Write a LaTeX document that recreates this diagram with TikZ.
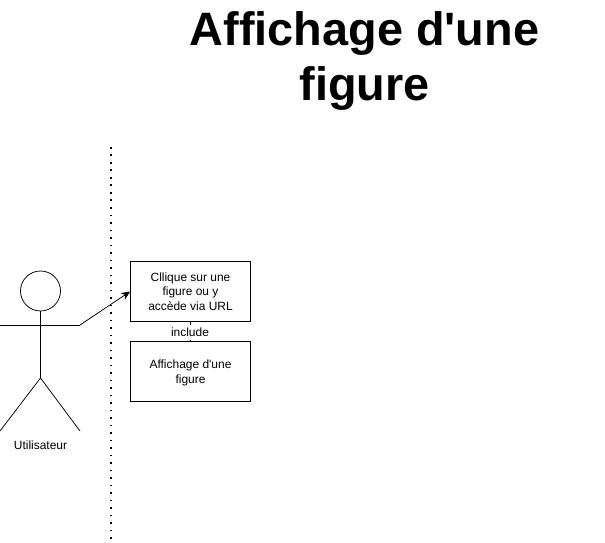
\documentclass[tikz,border=0pt]{standalone}
\usepackage{fontspec}
\setmainfont{Liberation Sans}
\usetikzlibrary{positioning,arrows.meta}
\tikzset{
  box/.style={draw,minimum width=120bp,minimum height=60bp,inner sep=2bp,align=center,font=\fontsize{12}{14.5}\selectfont},
  small/.style={inner sep=0pt,font=\fontsize{12}{14}\selectfont},
  limb/.style={line width=0.75bp}
}
\begin{document}
\begin{tikzpicture}[x=1bp,y=-1bp,line width=0.75bp]
  \useasboundingbox (0,0) rectangle (605,543);
  \node[inner sep=0pt,align=center,font=\bfseries\fontsize{47}{55}\selectfont] (title) at (364.5,61) {Affichage d\textquotesingle une\\figure};

  \coordinate (limtop) at (110.5,147);
  \coordinate (limbot) at (110.5,543);
  \draw[line width=2bp,dash pattern=on 1.7bp off 5.8bp] (limtop) -- (limbot);

  % actor
  \node[draw,circle,minimum size=40bp,inner sep=0pt] (head) at (40.5,291) {};
  \coordinate (hip) at (40.5,378);
  \coordinate (armleft) at (0,325);
  \coordinate (armright) at (80,325);
  \coordinate (footleft) at (0,431);
  \coordinate (footright) at (80,431);
  \draw (head.south) -- (hip);
  \draw (armleft) -- (armright);
  \draw (footleft) -- (hip) -- (footright);
  \node[small] (actor) at (40.5,445) {Utilisateur};

  \node[box] (clic) at (190.5,291.5) {Cllique sur une\\figure ou y\\accède via URL};
  \node[box,text depth=0pt] (show) at (190.5,371.5) {Affichage d\textquotesingle une\\figure};

  \draw[-{Stealth[length=9bp,width=8bp]}] (armright) -- (clic.west);
  \draw[-{Stealth[length=3bp,width=3bp]}] (clic) -- (show);
  \node[small,fill=white,minimum width=40bp,minimum height=15bp] (incl) at (190,332) {include};
\end{tikzpicture}
\end{document}
